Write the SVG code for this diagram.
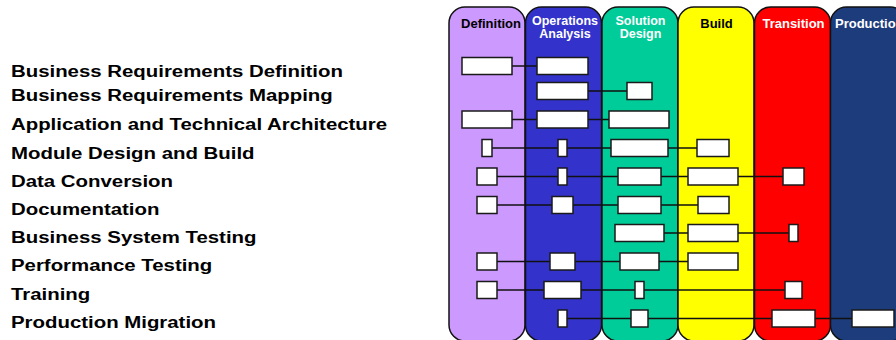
<svg xmlns="http://www.w3.org/2000/svg" width="896" height="340" viewBox="0 0 896 340">
<style>
.col{stroke:#111;stroke-width:1.5}
.hd{font-family:"Liberation Sans",Arial,sans-serif;font-weight:bold;font-size:13px;text-anchor:middle}
.hd2{font-size:12.5px}
.lbl{font-family:"Liberation Sans",Arial,sans-serif;font-weight:bold;font-size:17px;fill:#000}
.bx{fill:#fff;stroke:#1a1a1a;stroke-width:1.5}
.cn{stroke:#111;stroke-width:1.5;fill:none}
</style>
<rect width="896" height="340" fill="#fff"/>
<g id="labels" transform="matrix(1.2 0 0 1 -2.2 0)">
<text class="lbl" x="11" y="77">Business Requirements Definition</text>
<text class="lbl" x="11" y="101">Business Requirements Mapping</text>
<text class="lbl" x="11" y="130">Application and Technical Architecture</text>
<text class="lbl" x="11" y="159">Module Design and Build</text>
<text class="lbl" x="11" y="187">Data Conversion</text>
<text class="lbl" x="11" y="215">Documentation</text>
<text class="lbl" x="11" y="243">Business System Testing</text>
<text class="lbl" x="11" y="271">Performance Testing</text>
<text class="lbl" x="11" y="300">Training</text>
<text class="lbl" x="11" y="328">Production Migration</text>
</g>
<g id="col-definition">
<rect class="col" x="449" y="7" width="76" height="334" rx="16" fill="#CC99FF"/>
<text class="hd" x="491" y="28" fill="#000">Definition</text>
</g>
<g id="col-operations">
<rect class="col" x="525.5" y="7" width="76" height="334" rx="16" fill="#3333CC"/>
<text class="hd hd2" x="565" y="24.5" fill="#fff">Operations</text>
<text class="hd hd2" x="565" y="37.5" fill="#fff">Analysis</text>
</g>
<g id="col-solution">
<rect class="col" x="602" y="7" width="76" height="334" rx="16" fill="#00CC99"/>
<text class="hd hd2" x="640.5" y="24.5" fill="#fff">Solution</text>
<text class="hd hd2" x="640.5" y="37.5" fill="#fff">Design</text>
</g>
<g id="col-build">
<rect class="col" x="678" y="7" width="76" height="334" rx="16" fill="#FFFF00"/>
<text class="hd" x="716.5" y="28" fill="#000">Build</text>
</g>
<g id="col-transition">
<rect class="col" x="754.5" y="7" width="76" height="334" rx="16" fill="#FF0000"/>
<text class="hd" x="793.5" y="28" fill="#fff">Transition</text>
</g>
<g id="col-production">
<rect class="col" x="830.5" y="7" width="76" height="334" rx="16" fill="#1D3C7C"/>
<text class="hd" x="835" y="28" fill="#fff" style="text-anchor:start">Production</text>
</g>
<g id="connectors">
<line class="cn" x1="512" y1="66" x2="537" y2="66"/>
<line class="cn" x1="588" y1="91" x2="627" y2="91"/>
<line class="cn" x1="512" y1="119.5" x2="609" y2="119.5"/>
<line class="cn" x1="492" y1="148" x2="697" y2="148"/>
<line class="cn" x1="497" y1="176.5" x2="783" y2="176.5"/>
<line class="cn" x1="497" y1="205" x2="698" y2="205"/>
<line class="cn" x1="664" y1="233" x2="789" y2="233"/>
<line class="cn" x1="497" y1="261.5" x2="688" y2="261.5"/>
<line class="cn" x1="497" y1="290" x2="785" y2="290"/>
<line class="cn" x1="567" y1="318.5" x2="852" y2="318.5"/>
</g>
<g id="row1"><rect class="bx" x="462" y="57.5" width="50" height="17"/><rect class="bx" x="537" y="57.5" width="51" height="17"/></g>
<g id="row2"><rect class="bx" x="537" y="82.5" width="51" height="17"/><rect class="bx" x="627" y="82.5" width="25" height="17"/></g>
<g id="row3"><rect class="bx" x="462" y="111" width="50" height="17"/><rect class="bx" x="537" y="111" width="51" height="17"/><rect class="bx" x="609" y="111" width="60" height="17"/></g>
<g id="row4"><rect class="bx" x="482" y="139.5" width="10" height="17"/><rect class="bx" x="558" y="139.5" width="9" height="17"/><rect class="bx" x="611" y="139.5" width="57" height="17"/><rect class="bx" x="697" y="139.5" width="32" height="17"/></g>
<g id="row5"><rect class="bx" x="477" y="168" width="20" height="17"/><rect class="bx" x="558" y="168" width="9" height="17"/><rect class="bx" x="618" y="168" width="43" height="17"/><rect class="bx" x="688" y="168" width="50" height="17"/><rect class="bx" x="783" y="168" width="21" height="17"/></g>
<g id="row6"><rect class="bx" x="477" y="196.5" width="20" height="17"/><rect class="bx" x="552" y="196.5" width="21" height="17"/><rect class="bx" x="618" y="196.5" width="43" height="17"/><rect class="bx" x="698" y="196.5" width="31" height="17"/></g>
<g id="row7"><rect class="bx" x="615" y="224.5" width="49" height="17"/><rect class="bx" x="688" y="224.5" width="50" height="17"/><rect class="bx" x="789" y="224.5" width="9" height="17"/></g>
<g id="row8"><rect class="bx" x="477" y="253" width="20" height="17"/><rect class="bx" x="550" y="253" width="25" height="17"/><rect class="bx" x="620" y="253" width="39" height="17"/><rect class="bx" x="688" y="253" width="50" height="17"/></g>
<g id="row9"><rect class="bx" x="477" y="281.5" width="20" height="17"/><rect class="bx" x="544" y="281.5" width="37" height="17"/><rect class="bx" x="635" y="281.5" width="9" height="17"/><rect class="bx" x="785" y="281.5" width="17" height="17"/></g>
<g id="row10"><rect class="bx" x="558" y="310" width="9" height="17"/><rect class="bx" x="631" y="310" width="17" height="17"/><rect class="bx" x="772" y="310" width="43" height="17"/><rect class="bx" x="852" y="310" width="42" height="17"/></g>
</svg>
